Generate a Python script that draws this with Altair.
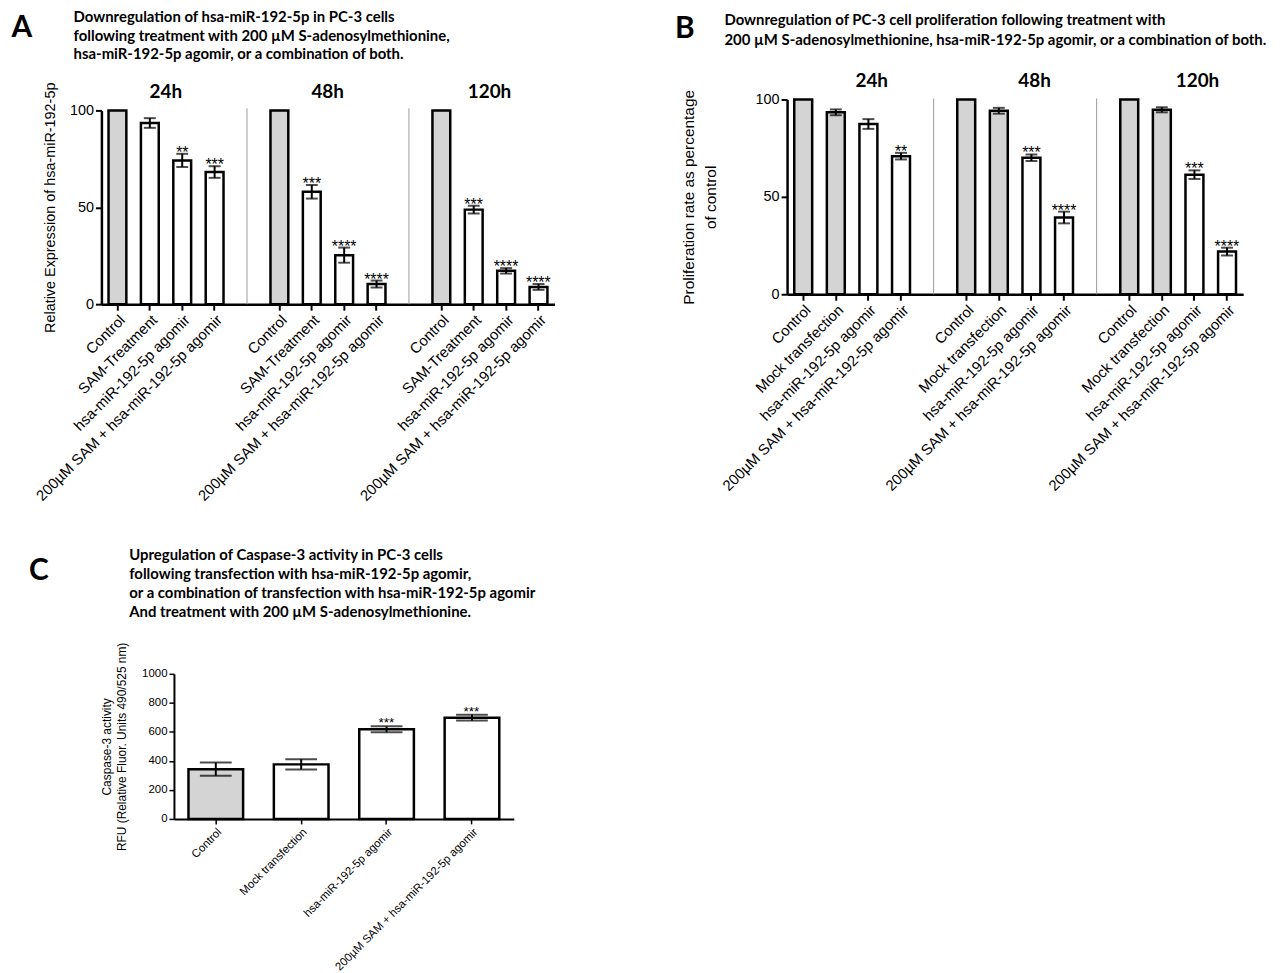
import altair as alt
import pandas as pd

# ---------------- data ----------------
times = ["24h", "48h", "120h"]

a_cats = ["Control", "SAM-Treatment", "hsa-miR-192-5p agomir", "200µM SAM + hsa-miR-192-5p agomir"]
a_vals = [[100, 93.5, 74.2, 68.2], [100, 58.0, 25.3, 10.4], [100, 48.8, 17.2, 8.9]]
a_errs = [[0, 2.5, 3.4, 3.0], [0, 3.5, 3.9, 1.8], [0, 2.0, 1.4, 1.5]]
a_stars = [["", "", "**", "***"], ["", "***", "****", "****"], ["", "***", "****", "****"]]
a_stip = [[1, 0, 0, 0], [1, 0, 0, 0], [1, 0, 0, 0]]

b_cats = ["Control", "Mock transfection", "hsa-miR-192-5p agomir", "200µM SAM + hsa-miR-192-5p agomir"]
b_vals = [[100, 93.4, 87.4, 70.9], [100, 94.2, 70.1, 39.4], [100, 94.7, 61.4, 21.9]]
b_errs = [[0, 1.5, 2.5, 1.7], [0, 1.5, 1.7, 3.0], [0, 1.3, 2.2, 2.0]]
b_stars = [["", "", "", "**"], ["", "", "***", "****"], ["", "", "***", "****"]]
b_stip = [[1, 1, 0, 0], [1, 1, 0, 0], [1, 1, 0, 0]]

c_cats = ["Control", "Mock transfection", "hsa-miR-192-5p agomir", "200µM SAM + hsa-miR-192-5p agomir"]
c_vals = [343, 376, 618, 698]
c_errs = [46, 35, 20, 20]
c_stars = ["", "", "***", "***"]
c_stip = [1, 0, 0, 0]

a_title = ["Downregulation of hsa-miR-192-5p in PC-3 cells",
           "following treatment with  200 µM S-adenosylmethionine,",
           "hsa-miR-192-5p agomir, or a combination of both."]
b_title = ["Downregulation of PC-3 cell proliferation following treatment with",
           "200 µM S-adenosylmethionine, hsa-miR-192-5p agomir, or a combination of both."]
c_title = ["Upregulation of Caspase-3 activity in PC-3 cells",
           "following transfection with hsa-miR-192-5p agomir,",
           "or a combination of transfection with hsa-miR-192-5p agomir",
           "And treatment with 200 µM S-adenosylmethionine."]

a_ytitle = "Relative Expression of hsa-miR-192-5p"
b_ytitle = ["Proliferation rate as  percentage", "of control"]
c_ytitle = ["Caspase-3 activity", "RFU (Relative Fluor. Units 490/525 nm)"]

# ---------------- style / layout ----------------
W, H = 1272, 965
STIP = "#d4d4d4"
TITLE_FONT = "Lato"
AX_FONT = "Liberation Sans"
TITLE_SIZE = 15
one = pd.DataFrame({"k": [0]})


def text_layer(txt, x, y, size, align="center", weight="bold", font=TITLE_FONT):
    return alt.Chart(one).mark_text(font=font, fontWeight=weight, fontSize=size, align=align,
                                    baseline="middle", color="black").encode(
        x=alt.value(x), y=alt.value(y), text=alt.value(txt))


def bar_layers(df, xs, xa, ys, ya, cap, star_size, star_dy, bar_sw=2.5):
    x = alt.X("key:N", scale=xs, axis=xa)
    xn = alt.X("key:N", scale=xs, axis=None)
    base = alt.Chart(df)
    bars = base.mark_bar(stroke="black", strokeWidth=bar_sw).encode(
        x=x, y=alt.Y("val:Q", scale=ys, axis=ya), fill=alt.Fill("fill:N", scale=None))
    eb = base.transform_filter("datum.err > 0")
    erule = eb.mark_rule(color="black", strokeWidth=2).encode(
        x=xn, y=alt.Y("lo:Q", scale=ys, axis=None), y2="hi:Q")
    ehi = eb.mark_tick(color="black", size=cap, thickness=2).encode(
        x=xn, y=alt.Y("hi:Q", scale=ys, axis=None))
    elo = eb.mark_tick(color="black", size=cap, thickness=2).encode(
        x=xn, y=alt.Y("lo:Q", scale=ys, axis=None))
    st = base.transform_filter("datum.star != ''").mark_text(
        font=AX_FONT, fontSize=star_size, baseline="alphabetic", dy=star_dy,
        color="black").encode(x=xn, y=alt.Y("hi:Q", scale=ys, axis=None), text="star:N")
    return [bars, erule, ehi, elo, st]


def grouped_panel(cats, vals, errs, stars, stip, xr, yr, ytitle, ytpad, ytsize, ytlh,
                  letter, lxy, title, txy, hdx, hdy, sep_top):
    rows, domain = [], []
    for gi, t in enumerate(times):
        if gi > 0:
            domain.append(f"sep{gi}")
        for ci, c in enumerate(cats):
            k = f"{t}|{c}"
            domain.append(k)
            v, e = vals[gi][ci], errs[gi][ci]
            rows.append(dict(key=k, val=v, err=e, lo=v - e, hi=v + e, star=stars[gi][ci],
                             fill=STIP if stip[gi][ci] else "white"))
    df = pd.DataFrame(rows)
    keys = list(df["key"])
    xs = alt.Scale(domain=domain, range=list(xr), paddingInner=0.45, paddingOuter=0.22)
    xa = alt.Axis(orient="bottom", offset=yr[0] - H, values=keys,
                  labelExpr="split(datum.label, '|')[1]", labelAngle=-45,
                  labelFontSize=15, labelLimit=400, tickSize=6, tickWidth=2,
                  domainWidth=2.5, labelPadding=2, title=None)
    ys = alt.Scale(domain=[0, 100], range=list(yr), nice=False)
    ya = alt.Axis(orient="left", offset=-xr[0], values=[0, 50, 100], labelFontSize=14.5,
                  tickSize=6, tickWidth=2, domainWidth=2.5, title=ytitle,
                  titleFontSize=ytsize, titlePadding=ytpad, titleLineHeight=ytlh,
                  titleFontWeight="normal")
    layers = bar_layers(df, xs, xa, ys, ya, 12, 16, 4)
    xn = alt.X("key:N", scale=xs, axis=None)
    layers.append(alt.Chart(pd.DataFrame({"key": ["sep1", "sep2"]})).mark_rule(
        color="#9a9a9a", strokeWidth=1).encode(x=xn, y=alt.value(sep_top), y2=alt.value(yr[0])))
    layers.append(alt.Chart(pd.DataFrame({"key": [f"{t}|{cats[1]}" for t in times],
                                          "time": times})).mark_text(
        font=TITLE_FONT, fontWeight="bold", fontSize=19, dx=hdx, baseline="middle",
        color="black").encode(x=xn, y=alt.value(hdy), text="time:N"))
    layers.append(text_layer(letter, lxy[0], lxy[1], 30))
    for i, line in enumerate(title):
        layers.append(text_layer(line, txy[0], txy[1] + i * txy[2], TITLE_SIZE, align="left"))
    return layers


A = grouped_panel(a_cats, a_vals, a_errs, a_stars, a_stip, (94, 550), (295, 100),
                  a_ytitle, 12, 14.5, 16, "A", (14, 17), a_title, (66, 6, 18.7), 16, 82, 98)
B = grouped_panel(b_cats, b_vals, b_errs, b_stars, b_stip, (784, 1243), (285, 89),
                  b_ytitle, 37, 15.5, 22, "B", (681, 18), b_title, (721, 9, 20), 36, 70, 88)

# ---------------- panel C ----------------
cdf = pd.DataFrame({"key": c_cats, "val": c_vals, "err": c_errs, "star": c_stars,
                    "fill": [STIP if s else "white" for s in c_stip]})
cdf["lo"] = cdf["val"] - cdf["err"]
cdf["hi"] = cdf["val"] + cdf["err"]
cxr, cyr = (167, 509), (813, 667)
cxs = alt.Scale(domain=c_cats, range=list(cxr), paddingInner=0.36, paddingOuter=0.17)
cxa = alt.Axis(orient="bottom", offset=cyr[0] - H, labelAngle=-45, labelFontSize=11.5,
               labelLimit=400, tickSize=5, tickWidth=1.5, domainWidth=2, labelPadding=2,
               title=None)
cys = alt.Scale(domain=[0, 1000], range=list(cyr), nice=False)
cya = alt.Axis(orient="left", offset=-cxr[0], values=[0, 200, 400, 600, 800, 1000],
               format="d", labelFontSize=11.5, tickSize=5, tickWidth=1.5, domainWidth=2,
               title=c_ytitle, titleFontSize=12, titleLineHeight=15, titlePadding=13,
               titleFontWeight="normal")
C = bar_layers(cdf, cxs, cxa, cys, cya, 32, 13.5, 1)
C.append(text_layer("C", 31, 564, 30))
for i, line in enumerate(c_title):
    C.append(text_layer(line, 122, 547 + i * 19.3, TITLE_SIZE, align="left"))

chart = alt.layer(*(A + B + C)).resolve_scale(
    x="independent", y="independent", fill="independent"
).resolve_axis(x="independent", y="independent").properties(
    width=W, height=H, padding=0, background="white",
    autosize=alt.AutoSizeParams(type="none")
).configure_view(strokeWidth=0).configure_axis(
    labelFont=AX_FONT, titleFont=AX_FONT, labelColor="black", titleColor="black",
    domainColor="black", tickColor="black", grid=False)

chart.save("out.html", embed_options={"renderer": "svg", "actions": False})
